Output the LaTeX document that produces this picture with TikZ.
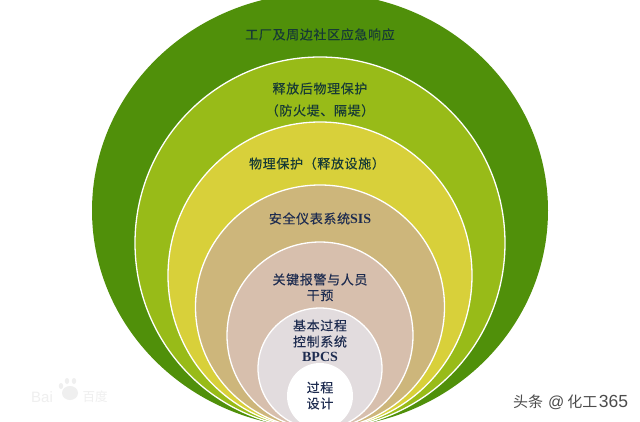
\documentclass[tikz,border=0pt]{standalone}
\usepackage{fontspec}
\setmainfont{Liberation Serif}
\newfontfamily\cjk[LetterSpace=5,FakeBold=0.25]{Noto Sans CJK SC}
\newfontfamily\cjkplain{Noto Sans CJK SC}
\newfontfamily\latinsans{Liberation Sans}
\definecolor{ringA}{HTML}{50900A}
\definecolor{ringB}{HTML}{98BB18}
\definecolor{ringC}{HTML}{D8D03A}
\definecolor{ringD}{HTML}{CDB67B}
\definecolor{ringE}{HTML}{D7BFAD}
\definecolor{ringF}{HTML}{E2DCDE}
\definecolor{inkgreen}{HTML}{173A35}
\definecolor{inknavy}{HTML}{1E2C50}
\definecolor{markgrey}{HTML}{EFEFEF}
\tikzset{
  ring/.style={draw=white,line width=1.3pt},
  lab/.style={inner sep=0pt,anchor=center,font=\fontsize{13}{15}\selectfont\cjk,text=inknavy},
  labgreen/.style={lab,text=inkgreen},
  latinbold/.style={inner sep=0pt,anchor=center,font=\fontsize{14}{16}\selectfont\bfseries,text=inknavy},
  stamp/.style={inner sep=0pt,anchor=center,text=markgrey}
}
\begin{document}
\begin{tikzpicture}[x=1pt,y=-1pt]
\useasboundingbox (0,0) rectangle (640,422);
\clip (0,0) rectangle (640,422);
\fill[white] (0,0) rectangle (640,422);
\fill[ringA] (320,210.5) ellipse [x radius=228pt,y radius=217.5pt];
\draw[ring,fill=ringB] (320,243) ellipse [x radius=185pt,y radius=186pt];
\draw[ring,fill=ringC] (320,275.5) ellipse [x radius=152pt,y radius=153.5pt];
\draw[ring,fill=ringD] (320,307) ellipse [x radius=124.5pt,y radius=122pt];
\draw[ring,fill=ringE] (320,335.5) ellipse [x radius=93pt,y radius=93.5pt];
\draw[ring,fill=ringF] (320,368.5) ellipse [x radius=62pt,y radius=60.5pt];
\fill[white] (320,396) ellipse [x radius=33pt,y radius=33pt];
\node[labgreen] (t1) at (320,34.5) {工厂及周边社区应急响应};
\node[labgreen] (t2) at (320,88.5) {释放后物理保护};
\node[labgreen] (t3) at (320,110.5) {（防火堤、隔堤）};
\node[labgreen] (t4) at (317,163.5) {物理保护（释放设施）};
\node[lab] (t5) at (320,218.5) {安全仪表系统{\fontsize{14}{16}\selectfont\rmfamily\bfseries SIS}};
\node[lab] (t6) at (320,279.5) {关键报警与人员};
\node[lab] (t7) at (320,295.5) {干预};
\node[lab] (t8) at (320,325.5) {基本过程};
\node[lab] (t9) at (320,341.5) {控制系统};
\node[latinbold] (t10) at (320,356.5) {BPCS};
\node[lab] (t11) at (320,387.5) {过程};
\node[lab] (t12) at (320,403.5) {设计};
% watermarks
\node[stamp,font=\fontsize{15}{16}\selectfont\latinsans] (b1) at (42,397) {Bai};
\node[stamp,font=\fontsize{12.5}{14}\selectfont\cjkplain] (b2) at (95,397) {百度};
\fill[markgrey] (70,393) ellipse [x radius=8pt,y radius=7pt];
\fill[markgrey] (61,386) ellipse [x radius=2.2pt,y radius=3pt];
\fill[markgrey] (67,381) ellipse [x radius=2.2pt,y radius=3pt];
\fill[markgrey] (74,381) ellipse [x radius=2.2pt,y radius=3pt];
\node[inner sep=0pt,anchor=west,text=black!70,font=\fontsize{15}{16}\selectfont\cjkplain] (w1) at (513,402) {头条\hspace{5pt}{\latinsans\fontsize{16}{16}\selectfont @}\hspace{3pt}化工\hspace{1.5pt}{\latinsans\fontsize{17.5}{16}\selectfont 365}};
\end{tikzpicture}
\end{document}
